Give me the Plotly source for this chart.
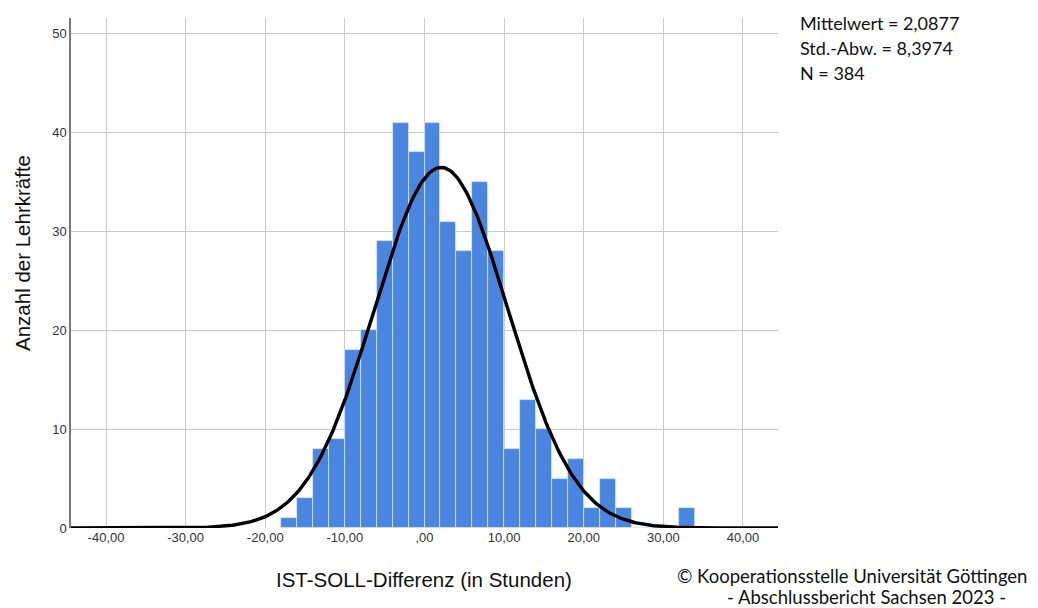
import numpy as np
import plotly.graph_objects as go

# Histogram data (bin width 2 hours)
bin_left = [-18, -16, -14, -12, -10, -8, -6, -4, -2, 0, 2, 4, 6, 8, 10, 12, 14, 16, 18, 20, 22, 24, 26, 28, 30, 32]
counts   = [1, 3, 8, 9, 18, 20, 29, 41, 38, 41, 31, 28, 35, 28, 8, 13, 10, 5, 7, 2, 5, 2, 0, 0, 0, 2]
bin_width = 2

# Summary statistics (as shown in the chart)
MEAN = 2.0877
SD = 8.3974
N = 384

x_tickvals = [-40, -30, -20, -10, 0, 10, 20, 30, 40]
x_ticktext = ["-40,00", "-30,00", "-20,00", "-10,00", ",00", "10,00", "20,00", "30,00", "40,00"]
y_tickvals = [0, 10, 20, 30, 40, 50]

x_range = [-44.4, 44.4]
y_range = [0, 51.6]

centers = [b + bin_width / 2 for b in bin_left]

# Normal curve overlay scaled to the histogram
xc = np.linspace(x_range[0], x_range[1], 400)
yc = N * bin_width / (SD * np.sqrt(2 * np.pi)) * np.exp(-0.5 * ((xc - MEAN) / SD) ** 2)

W, H = 1038, 608
ML, MR, MT, MB = 71, 260, 18, 80
PW, PH = W - ML - MR, H - MT - MB

def px(x):
    return (x - ML) / PW

def py(y):
    return 1 - (y - MT) / PH

fig = go.Figure()
fig.add_trace(go.Bar(
    x=centers, y=counts, width=bin_width,
    marker=dict(color="#4a86e0", line=dict(color="#d6e8ff", width=0.8)),
    hoverinfo="x+y", showlegend=False,
))
fig.add_trace(go.Scatter(
    x=xc, y=yc, mode="lines",
    line=dict(color="black", width=3.4),
    showlegend=False, hoverinfo="skip", cliponaxis=False,
))

fig.update_layout(
    width=W, height=H,
    margin=dict(l=ML, r=MR, t=MT, b=MB, autoexpand=False),
    paper_bgcolor="white", plot_bgcolor="white",
    font=dict(family="Liberation Sans, Arial, sans-serif", color="#222"),
    bargap=0,
    xaxis=dict(
        range=x_range, tickvals=x_tickvals, ticktext=x_ticktext,
        showgrid=True, gridcolor="#cccccc", gridwidth=1,
        zeroline=False, showline=False, ticks="", automargin=False,
        tickfont=dict(size=13, color="#333"),
    ),
    yaxis=dict(
        range=y_range, tickvals=y_tickvals,
        showgrid=True, gridcolor="#cccccc", gridwidth=1,
        zeroline=False, showline=True, linecolor="#7a7a7a", linewidth=1.5,
        ticks="", automargin=False, tickfont=dict(size=13, color="#333"),
    ),
)

# Axis titles placed as annotations for exact positioning
fig.add_annotation(
    x=px(424), y=py(579), xref="paper", yref="paper",
    text="IST-SOLL-Differenz (in Stunden)", showarrow=False,
    xanchor="center", yanchor="middle",
    font=dict(family="Liberation Sans, Arial, sans-serif", size=20.5, color="#111"),
)
fig.add_annotation(
    x=px(23), y=py(253), xref="paper", yref="paper",
    text="Anzahl der Lehrkräfte", showarrow=False, textangle=-90,
    xanchor="center", yanchor="middle",
    font=dict(family="Liberation Sans, Arial, sans-serif", size=20.5, color="#111"),
)

stats_lines = ["Mittelwert = 2,0877", "Std.-Abw. = 8,3974", "N = 384"]
for i, t in enumerate(stats_lines):
    fig.add_annotation(
        x=px(798), xref="paper",
        y=py(23 + 25 * i), yref="paper",
        text=t, showarrow=False, xanchor="left", yanchor="middle",
        font=dict(family="Lato, Noto Sans, sans-serif", size=18, color="#111"),
    )

fig.add_annotation(
    x=px(852), xref="paper", y=py(576), yref="paper",
    text="© Kooperationsstelle Universität Göttingen", showarrow=False,
    xanchor="center", yanchor="middle",
    font=dict(family="Lato, Noto Sans, sans-serif", size=18.5, color="#111"),
)
fig.add_annotation(
    x=px(866), xref="paper", y=py(597), yref="paper",
    text="- Abschlussbericht Sachsen 2023 -", showarrow=False,
    xanchor="center", yanchor="middle",
    font=dict(family="Lato, Noto Sans, sans-serif", size=18.5, color="#111"),
)

fig.write_html(
    "out.html",
    config={"displayModeBar": False},
    post_script="document.body.style.margin='0px';document.body.style.overflow='hidden';",
)
